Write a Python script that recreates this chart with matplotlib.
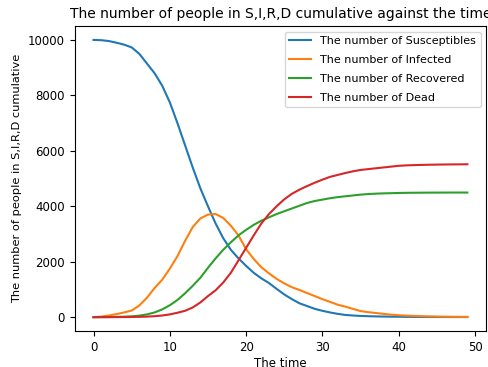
import numpy as np
import matplotlib
matplotlib.use("Agg")
import matplotlib.pyplot as plt

# Valeurs (t = 0..49)
t = np.arange(50)
susceptibles = [10000, 9990, 9960, 9900, 9830, 9730, 9500, 9150, 8800, 8350,
                7750, 7000, 6200, 5400, 4650, 4000, 3380, 2850, 2430, 2120,
                1850, 1600, 1400, 1230, 1020, 820, 650, 500, 400, 300,
                230, 170, 120, 80, 60, 45, 35, 28, 22, 18,
                15, 12, 10, 9, 8, 7, 6, 5, 5, 5]
infected = [0, 20, 60, 110, 170, 240, 420, 700, 1050, 1350,
            1750, 2200, 2750, 3250, 3560, 3700, 3720, 3580, 3300, 2950,
            2450, 2100, 1800, 1580, 1380, 1220, 1080, 980, 870, 760,
            650, 550, 450, 380, 300, 220, 180, 150, 120, 90,
            70, 55, 45, 35, 28, 22, 18, 14, 12, 10]
recovered = [0, 2, 5, 10, 18, 30, 55, 100, 170, 280,
             430, 620, 860, 1130, 1420, 1780, 2120, 2430, 2700, 2950,
             3150, 3330, 3480, 3600, 3720, 3820, 3920, 4020, 4120, 4190,
             4240, 4290, 4330, 4360, 4390, 4420, 4440, 4455, 4465, 4472,
             4480, 4485, 4488, 4490, 4492, 4493, 4494, 4495, 4495, 4495]
dead = [0, 0, 1, 2, 4, 7, 12, 20, 35, 60,
        100, 160, 230, 350, 530, 760, 970, 1250, 1600, 2050,
        2500, 2950, 3380, 3720, 4000, 4250, 4450, 4600, 4730, 4850,
        4960, 5060, 5130, 5200, 5260, 5310, 5340, 5370, 5400, 5430,
        5460, 5475, 5485, 5492, 5498, 5503, 5507, 5510, 5512, 5515]

fig = plt.figure(figsize=(4.89, 3.67), dpi=100)
ax = fig.add_axes([0.153, 0.098, 0.841, 0.831])
ax.plot(t, susceptibles, label='The number of Susceptibles')
ax.plot(t, infected, label='The number of Infected')
ax.plot(t, recovered, label='The number of Recovered')
ax.plot(t, dead, label='The number of Dead')
ax.set_xlabel('The time', fontsize=8.5, labelpad=2)
ax.set_ylabel('The number of people in S,I,R,D cumulative', fontsize=8.2)
ax.set_title('The number of people in S,I,R,D cumulative against the time', fontsize=10)
ax.tick_params(labelsize=8.5)
ax.legend(loc='upper right', fontsize=8, labelspacing=0.8)
fig.savefig('out.png', dpi=100)
